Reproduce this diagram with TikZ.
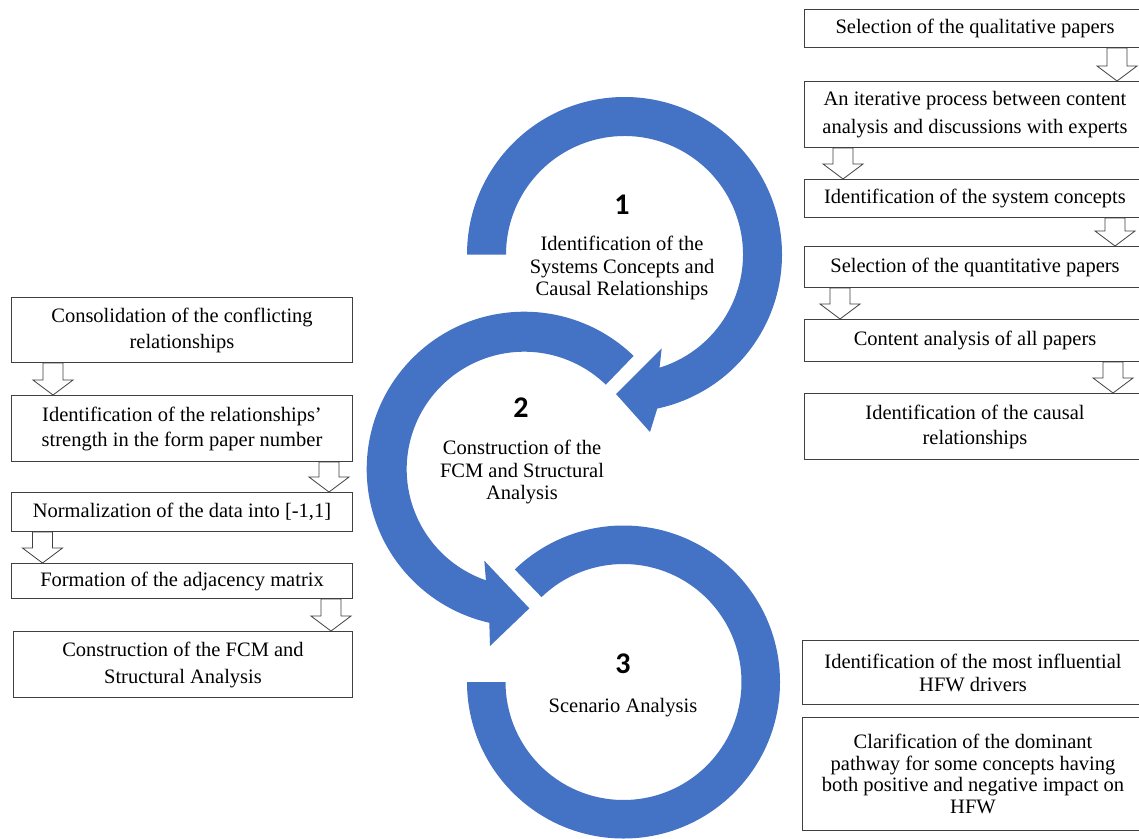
\documentclass[tikz,border=0pt]{standalone}
\usepackage{fontspec}
\setmainfont{Liberation Serif}
\newfontfamily\numfont{Carlito}
\usetikzlibrary{calc}
\definecolor{ringblue}{HTML}{4472C4}
\definecolor{boxline}{HTML}{404040}
\tikzset{
  box/.style={draw=boxline, line width=1pt, fill=white, anchor=north west,
    minimum width=341pt, inner sep=0pt, align=center,
    font=\fontsize{20.5}{25}\selectfont},
  hollowarrow/.style={draw=boxline, line width=0.8pt, fill=white, line join=miter},
  ring/.style={fill=ringblue},
  num/.style={font=\numfont\bfseries\fontsize{30}{30}\selectfont, inner sep=0pt},
  ctext/.style={align=center, inner sep=0pt, font=\fontsize{20.5}{22.5}\selectfont},
}
\newcommand\blkarrow[3]{%
  \coordinate (t) at (#1,0 |- #2.south);
  \coordinate (b) at (#1,0 |- #3.north);
  \draw[hollowarrow] ($(t)+(-10,0)$) -- ($(b)+(-10,-15)$) -- ($(b)+(-20,-15)$) -- (b)
    -- ($(b)+(20,-15)$) -- ($(b)+(10,-15)$) -- ($(t)+(10,0)$) -- cycle;}
\begin{document}
\begin{tikzpicture}[x=1pt,y=-1pt]
\useasboundingbox (0,0) rectangle (1139,838);
\clip (0,0) rectangle (1139,838);
\fill[white] (0,0) rectangle (1139,838);

% rings
\coordinate (c1) at (624.5,254.5);
\coordinate (c2) at (524.2,469.2);
\coordinate (c3) at (623.5,682);
\fill[ring] (c1) ++(-180:157.5) arc[start angle=-180, end angle=78, radius=157.5]
  -- (650,432) -- (616,394) -- (661.7,348.3)
  -- ($(c1)+(72.8:118.5)$) arc[start angle=72.8, end angle=-180, radius=118.5] -- cycle;
\fill[ring] (c2) ++(-46:157.5) arc[start angle=-46, end angle=-257.2, radius=157.5]
  -- (490,646) -- (529.3,608.3) -- (484.3,560.7)
  -- ($(c2)+(-251:117.5)$) arc[start angle=-251, end angle=-46, radius=117.5] -- cycle;
\fill[ring] (c3) ++(180:156.5) arc[start angle=180, end angle=-134, radius=156.5]
  -- ($(c3)+(-134:118)$) arc[start angle=-134, end angle=180, radius=118] -- cycle;

\node[num] (n1) at (622,205) {1};
\node[num] (n2) at (521,408) {2};
\node[num] (n3) at (623,664) {3};
\node[ctext] (t1) at (622,268) {Identification of the\\Systems Concepts and\\Causal Relationships};
\node[ctext] (t2) at (522,472) {Construction of the\\FCM and Structural\\Analysis};
\node[ctext] (t3) at (623,708) {Scenario Analysis};

% right column
\node[box, minimum height=38pt] (r1) at (804,9) {Selection of the qualitative papers};
\node[box, minimum height=66pt, font=\fontsize{20.5}{28}\selectfont] (r2) at (804,81) {An iterative process between content\\analysis and discussions with experts};
\node[box, minimum height=38pt] (r3) at (804,179) {Identification of the system concepts};
\node[box, minimum height=41pt] (r4) at (804,246) {Selection of the quantitative papers};
\node[box, minimum height=42pt] (r5) at (804,319) {Content analysis of all papers};
\node[box, minimum height=66pt] (r6) at (804,393) {Identification of the causal\\relationships};
\blkarrow{1117}{r1}{r2}
\blkarrow{843}{r2}{r3}
\blkarrow{1115}{r3}{r4}
\blkarrow{840}{r4}{r5}
\blkarrow{1113}{r5}{r6}

\node[box, minimum height=64pt, font=\fontsize{20.5}{23}\selectfont] (r7) at (802,640) {Identification of the most influential\\HFW drivers};
\node[box, minimum height=113pt, font=\fontsize{20.5}{21.5}\selectfont] (r8) at (802,717) {Clarification of the dominant\\pathway for some concepts having\\both positive and negative impact on\\HFW};

% left column
\node[box, minimum height=65pt, font=\fontsize{20.5}{26}\selectfont] (l1) at (11,297) {Consolidation of the conflicting\\relationships};
\node[box, minimum height=66pt] (l2) at (11,395) {Identification of the relationships’\\strength in the form paper number};
\node[box, minimum height=39pt] (l3) at (11,492) {Normalization of the data into [-1,1]};
\node[box, minimum height=35pt] (l4) at (11,563) {Formation of the adjacency matrix};
\node[box, minimum height=66pt, minimum width=339pt, font=\fontsize{20.5}{27}\selectfont] (l5) at (13,631) {Construction of the FCM and\\Structural Analysis};
\blkarrow{53}{l1}{l2}
\blkarrow{329}{l2}{l3}
\blkarrow{42.5}{l3}{l4}
\blkarrow{331}{l4}{l5}
\end{tikzpicture}
\end{document}
